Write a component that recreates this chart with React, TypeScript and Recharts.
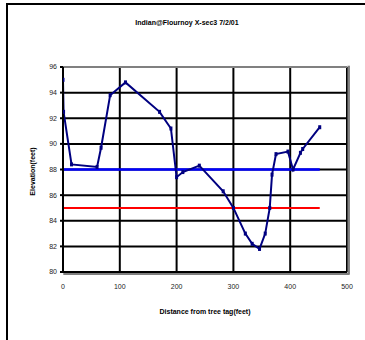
import { LineChart, Line, XAxis, YAxis, CartesianGrid, ReferenceLine } from "recharts";

const distance = [0, 1, 15, 60, 67, 83, 110, 170, 190, 200, 211, 240, 282, 300, 321, 333, 346, 356, 364, 368, 375, 396, 405, 418, 422, 452];
const elevation = [95.0, 92.5, 88.4, 88.2, 89.7, 93.8, 94.8, 92.5, 91.2, 87.4, 87.8, 88.3, 86.3, 85.0, 83.0, 82.2, 81.8, 83.0, 85.0, 87.6, 89.2, 89.4, 88.0, 89.3, 89.6, 91.3];
const blueLevel = [{ x: 0, y: 88 }, { x: 452, y: 88 }];
const redLevel = [{ x: 0, y: 85 }, { x: 452, y: 85 }];
const xTicks = [0, 100, 200, 300, 400, 500];
const yTicks = [80, 82, 84, 86, 88, 90, 92, 94, 96];

const profile = distance.map((x, i) => ({ x, y: elevation[i] }));

const font = "'Liberation Sans', Arial, sans-serif";
const navy = "#000080";
const shadow = "#808080";

const Marker = (props: any) => {
  const { cx, cy } = props;
  if (cx == null || cy == null) return null;
  return <rect x={cx - 1.5} y={cy - 2} width={3} height={4} fill={navy} />;
};

export default function App() {
  return (
    <div
      style={{
        position: "absolute",
        left: 0,
        top: 0,
        width: 365,
        height: 340,
        background: "#fff",
        fontFamily: font,
      }}
    >
      <div
        style={{
          position: "absolute",
          left: 6,
          top: 3,
          width: 400,
          height: 400,
          borderLeft: "2px solid #000",
          borderTop: "2px solid #000",
        }}
      />
      <div
        style={{
          position: "absolute",
          left: 0,
          width: 374,
          top: 19,
          textAlign: "center",
          fontSize: 7,
          fontWeight: "bold",
          color: "#000",
        }}
      >
        Indian@Flournoy X-sec3 7/2/01
      </div>
      <LineChart
        width={365}
        height={340}
        margin={{ top: 67, right: 18, bottom: 0, left: 0 }}
        style={{ position: "absolute", left: 0, top: 0 }}
      >
        <CartesianGrid stroke="#000" strokeWidth={2} />
        <XAxis
          type="number"
          dataKey="x"
          domain={[0, 500]}
          ticks={xTicks}
          allowDataOverflow
          height={68}
          tickLine={false}
          tickSize={0}
          tickMargin={12}
          axisLine={{ stroke: "#000", strokeWidth: 2 }}
          tick={{ fontSize: 7, fill: "#222", fontFamily: font }}
          label={{
            value: "Distance from tree tag(feet)",
            position: "center",
            dy: 6,
            style: { fontSize: 7, fontWeight: "bold", fill: "#000", fontFamily: font },
          }}
        />
        <YAxis
          type="number"
          dataKey="y"
          domain={[80, 96]}
          ticks={yTicks}
          allowDataOverflow
          width={63}
          tickSize={3}
          tickMargin={3}
          tickLine={{ stroke: "#000", strokeWidth: 2 }}
          axisLine={{ stroke: "#000", strokeWidth: 2 }}
          tick={{ fontSize: 7, fill: "#222", fontFamily: font }}
          label={{
            value: "Elevation(feet)",
            angle: -90,
            position: "center",
            dx: 1,
            dy: 2,
            style: { fontSize: 7, fontWeight: "bold", fill: "#000", fontFamily: font, textAnchor: "middle" },
          }}
        />
        <ReferenceLine y={96} stroke={shadow} strokeWidth={2} />
        <ReferenceLine
          segment={[{ x: 503, y: 96.1 }, { x: 503, y: 79.8 }]}
          stroke={shadow}
          strokeWidth={2.5}
          ifOverflow="visible"
        />
        <ReferenceLine
          segment={[{ x: 0.5, y: 79.85 }, { x: 504, y: 79.85 }]}
          stroke={shadow}
          strokeWidth={2}
          ifOverflow="visible"
        />
        <Line
          data={blueLevel}
          dataKey="y"
          stroke="#0000ff"
          strokeWidth={2.6}
          dot={false}
          isAnimationActive={false}
        />
        <Line
          data={redLevel}
          dataKey="y"
          stroke="#ff0000"
          strokeWidth={2}
          dot={false}
          isAnimationActive={false}
        />
        <Line
          data={profile}
          dataKey="y"
          stroke={navy}
          strokeWidth={2}
          dot={<Marker />}
          isAnimationActive={false}
        />
      </LineChart>
    </div>
  );
}
